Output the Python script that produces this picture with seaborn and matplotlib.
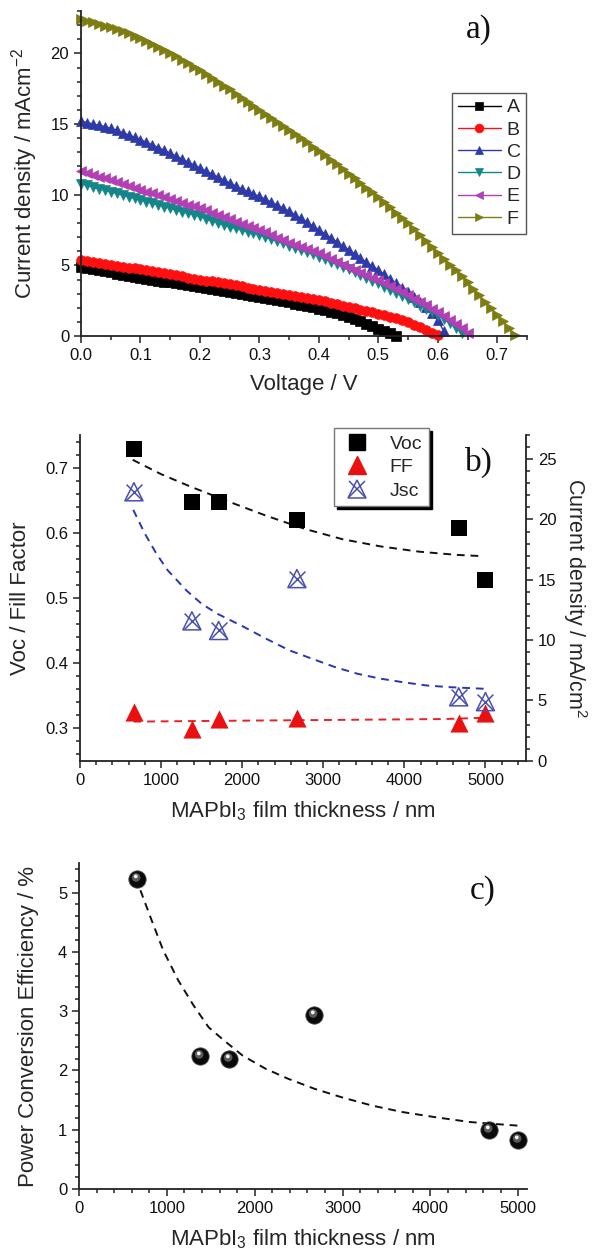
import matplotlib
matplotlib.use('Agg')
import matplotlib.pyplot as plt
import seaborn as sns
from matplotlib.lines import Line2D
from matplotlib.markers import MarkerStyle
from matplotlib.transforms import Affine2D
from matplotlib.ticker import MultipleLocator, FormatStrFormatter

# ---- panel a: J-V curves (0.01 V steps) ----
volt = [0.00, 0.01, 0.02, 0.03, 0.04, 0.05, 0.06, 0.07, 0.08, 0.09,
        0.10, 0.11, 0.12, 0.13, 0.14, 0.15, 0.16, 0.17, 0.18, 0.19,
        0.20, 0.21, 0.22, 0.23, 0.24, 0.25, 0.26, 0.27, 0.28, 0.29,
        0.30, 0.31, 0.32, 0.33, 0.34, 0.35, 0.36, 0.37, 0.38, 0.39,
        0.40, 0.41, 0.42, 0.43, 0.44, 0.45, 0.46, 0.47, 0.48, 0.49,
        0.50, 0.51, 0.52, 0.53, 0.54, 0.55, 0.56, 0.57, 0.58, 0.59,
        0.60, 0.61, 0.62, 0.63, 0.64, 0.65, 0.66, 0.67, 0.68, 0.69,
        0.70, 0.71, 0.72, 0.73]

j_A = [4.90, 4.82, 4.74, 4.66, 4.58, 4.50, 4.42, 4.34, 4.26, 4.18,
       4.10, 4.04, 3.98, 3.91, 3.85, 3.79, 3.73, 3.67, 3.61, 3.54,
       3.48, 3.41, 3.34, 3.27, 3.20, 3.13, 3.06, 2.99, 2.92, 2.85,
       2.77, 2.70, 2.62, 2.54, 2.46, 2.38, 2.30, 2.21, 2.12, 2.03,
       1.94, 1.83, 1.72, 1.60, 1.47, 1.33, 1.18, 1.03, 0.87, 0.70,
       0.52, 0.35, 0.18, 0.02]
j_B = [5.38, 5.31, 5.25, 5.18, 5.12, 5.05, 4.98, 4.92, 4.85, 4.79,
       4.72, 4.65, 4.58, 4.50, 4.43, 4.36, 4.29, 4.22, 4.14, 4.07,
       4.00, 3.93, 3.86, 3.79, 3.72, 3.65, 3.58, 3.51, 3.43, 3.36,
       3.29, 3.22, 3.14, 3.07, 2.99, 2.92, 2.84, 2.77, 2.69, 2.62,
       2.54, 2.45, 2.35, 2.25, 2.14, 2.04, 1.95, 1.86, 1.77, 1.68,
       1.59, 1.48, 1.37, 1.25, 1.13, 0.99, 0.81, 0.62, 0.42, 0.23,
       0.04]
j_C = [15.20, 15.11, 15.01, 14.92, 14.82, 14.70, 14.55, 14.39, 14.23, 14.07,
       13.90, 13.72, 13.53, 13.34, 13.14, 12.94, 12.73, 12.53, 12.32, 12.11,
       11.90, 11.69, 11.47, 11.26, 11.04, 10.83, 10.62, 10.42, 10.23, 10.06,
       9.88, 9.68, 9.48, 9.27, 9.05, 8.83, 8.58, 8.32, 8.06, 7.79,
       7.51, 7.24, 6.96, 6.68, 6.40, 6.11, 5.82, 5.52, 5.22, 4.95,
       4.67, 4.36, 4.05, 3.74, 3.43, 3.10, 2.77, 2.43, 2.09, 1.62,
       1.11, 0.35]
j_D = [10.78, 10.66, 10.55, 10.43, 10.32, 10.21, 10.09, 9.98, 9.86, 9.75,
       9.64, 9.52, 9.40, 9.28, 9.16, 9.04, 8.92, 8.80, 8.69, 8.57,
       8.46, 8.31, 8.16, 8.01, 7.86, 7.73, 7.62, 7.50, 7.39, 7.27,
       7.16, 7.01, 6.85, 6.70, 6.55, 6.39, 6.23, 6.08, 5.93, 5.77,
       5.62, 5.45, 5.27, 5.09, 4.91, 4.73, 4.52, 4.31, 4.11, 3.92,
       3.72, 3.50, 3.29, 3.07, 2.85, 2.63, 2.40, 2.16, 1.93, 1.70,
       1.47, 1.19, 0.90, 0.58, 0.24]
j_E = [11.66, 11.53, 11.41, 11.28, 11.16, 11.03, 10.89, 10.76, 10.63, 10.49,
       10.36, 10.22, 10.09, 9.95, 9.81, 9.68, 9.55, 9.42, 9.30, 9.17,
       9.05, 8.89, 8.73, 8.57, 8.41, 8.25, 8.10, 7.95, 7.80, 7.66,
       7.51, 7.33, 7.15, 6.97, 6.79, 6.61, 6.46, 6.31, 6.16, 6.00,
       5.85, 5.65, 5.45, 5.25, 5.04, 4.84, 4.66, 4.48, 4.31, 4.13,
       3.96, 3.74, 3.53, 3.32, 3.10, 2.87, 2.63, 2.40, 2.17, 1.94,
       1.71, 1.43, 1.14, 0.85, 0.54, 0.22]
j_F = [22.40, 22.30, 22.19, 22.08, 21.97, 21.85, 21.71, 21.56, 21.41, 21.26,
       21.10, 20.90, 20.69, 20.48, 20.27, 20.05, 19.81, 19.56, 19.31, 19.06,
       18.80, 18.53, 18.26, 17.99, 17.72, 17.45, 17.16, 16.87, 16.58, 16.29,
       16.00, 15.72, 15.44, 15.16, 14.88, 14.60, 14.30, 14.00, 13.70, 13.40,
       13.10, 12.78, 12.46, 12.14, 11.82, 11.50, 11.17, 10.84, 10.51, 10.18,
       9.85, 9.48, 9.11, 8.74, 8.37, 8.00, 7.58, 7.16, 6.74, 6.32,
       5.90, 5.48, 5.06, 4.64, 4.22, 3.80, 3.34, 2.88, 2.42, 1.96,
       1.50, 1.03, 0.56, 0.10]

cell_names = ['A', 'B', 'C', 'D', 'E', 'F']
cell_markers = ['s', 'o', '^', 'v', '<', '>']
cell_colors = ['#000000', '#ff1010', '#2d3aa8', '#14868a', '#b23fb6', '#7d7d12']

# ---- panel b / c: device parameters vs film thickness ----
thickness = [665, 1380, 1710, 2675, 4670, 5000]
voc = [0.729, 0.648, 0.648, 0.619, 0.608, 0.528]
ff = [0.325, 0.298, 0.314, 0.315, 0.308, 0.324]
jsc = [22.3, 11.6, 10.8, 15.1, 5.3, 4.9]
pce = [5.23, 2.24, 2.20, 2.94, 1.00, 0.83]

# fit curves
voc_fit_x = [650, 1000, 1360, 1830, 2300, 2770, 3240, 3710, 4180, 4650, 4980]
voc_fit_y = [0.712, 0.690, 0.671, 0.648, 0.626, 0.606, 0.590, 0.579, 0.571, 0.566, 0.564]
ff_fit_x = [660, 1500, 2500, 3500, 4500, 5000]
ff_fit_y = [0.310, 0.311, 0.312, 0.313, 0.314, 0.316]
jsc_fit_x = [657, 798, 939, 1080, 1315, 1502, 1690, 2019, 2300, 2582,
             2864, 3146, 3427, 3709, 3991, 4272, 4554, 5000]
jsc_fit_y = [20.8, 18.85, 17.2, 15.8, 14.1, 13.0, 12.2, 11.1, 10.1, 9.15,
             8.45, 7.76, 7.2, 6.8, 6.5, 6.24, 6.1, 5.96]
pce_fit_x = [699, 828, 958, 1130, 1303, 1475, 1648, 1864, 2123, 2381,
             2683, 2985, 3330, 3676, 4064, 4452, 4711, 4991]
pce_fit_y = [5.04, 4.53, 4.03, 3.52, 3.10, 2.73, 2.51, 2.25, 2.03, 1.86,
             1.69, 1.55, 1.41, 1.30, 1.21, 1.13, 1.10, 1.07]

sns.set_style('ticks')
plt.rcParams['font.family'] = ['Liberation Sans', 'DejaVu Sans']
plt.rcParams['mathtext.fontset'] = 'custom'
plt.rcParams['mathtext.rm'] = 'Liberation Sans'
plt.rcParams['mathtext.it'] = 'Liberation Sans:italic'
plt.rcParams['mathtext.bf'] = 'Liberation Sans:bold'

AX_COL = '#222222'
TICK_FS = 12
LAB_FS = 16
dash = (0, (4, 3))


def style_axis(ax, sides=('left', 'bottom')):
    for s in ['left', 'right', 'top', 'bottom']:
        ax.spines[s].set_visible(s in sides)
        ax.spines[s].set_color(AX_COL)
        ax.spines[s].set_linewidth(1.3)
    ax.tick_params(which='both', direction='out', colors=AX_COL, width=1.1,
                   labelsize=TICK_FS, labelcolor='#111111')
    ax.tick_params(which='major', length=5)
    ax.tick_params(which='minor', length=3)


fig = plt.figure(figsize=(5.93, 12.52), dpi=100)
ax_a = fig.add_axes([0.1366, 0.7316, 0.7521, 0.2596])
ax_b = fig.add_axes([0.1349, 0.3924, 0.7521, 0.2601])
ax_c = fig.add_axes([0.1332, 0.0503, 0.7555, 0.2604])

# a)
for name, j, mk, col in zip(cell_names, [j_A, j_B, j_C, j_D, j_E, j_F], cell_markers, cell_colors):
    sns.lineplot(x=volt[:len(j)], y=j, ax=ax_a, color=col, marker=mk, markersize=7,
                 markeredgecolor=col, markeredgewidth=0.5, linewidth=1.0,
                 label=name, sort=False, clip_on=False)
ax_a.set_xlim(0, 0.75)
ax_a.set_ylim(0, 23)
ax_a.xaxis.set_major_locator(MultipleLocator(0.1))
ax_a.xaxis.set_minor_locator(MultipleLocator(0.05))
ax_a.xaxis.set_major_formatter(FormatStrFormatter('%.1f'))
ax_a.yaxis.set_major_locator(MultipleLocator(5))
ax_a.yaxis.set_minor_locator(MultipleLocator(1))
style_axis(ax_a)
ax_a.set_xlabel('Voltage / V', fontsize=LAB_FS)
ax_a.set_ylabel('Current density / mAcm$^{-2}$', fontsize=LAB_FS)
ax_a.xaxis.set_label_coords(0.5, -0.117)
ax_a.yaxis.set_label_coords(-0.092, 0.5)
leg_a = ax_a.legend(loc='upper left', bbox_to_anchor=(0.832, 0.748), fontsize=14,
                    frameon=True, fancybox=False, framealpha=1, edgecolor='#555555',
                    handlelength=2.2, handletextpad=0.3, labelspacing=0.24,
                    borderpad=0.3, borderaxespad=0, markerscale=0.9)
leg_a.get_frame().set_linewidth(1.0)

# b)
ax_b2 = ax_b.twinx()
sns.lineplot(x=voc_fit_x, y=voc_fit_y, ax=ax_b, color='#111111', linestyle=dash, linewidth=1.4)
sns.lineplot(x=ff_fit_x, y=ff_fit_y, ax=ax_b, color='#e8202a', linestyle=dash, linewidth=1.4)
sns.scatterplot(x=thickness, y=voc, ax=ax_b, marker='s', s=120, color='black', linewidth=0, zorder=3)
sns.scatterplot(x=thickness, y=ff, ax=ax_b, marker='^', s=170, color='#e81010', linewidth=0, zorder=3)
sns.lineplot(x=jsc_fit_x, y=jsc_fit_y, ax=ax_b2, color='#2a36b0', linestyle=dash, linewidth=1.4)
sns.scatterplot(x=thickness, y=jsc, ax=ax_b2, marker='^', s=170, facecolor='none',
                edgecolor='#4a50b0', linewidth=1.1, zorder=3)
sns.scatterplot(x=thickness, y=jsc, ax=ax_b2, marker='x', s=130, color='#4a50b0',
                linewidth=1.1, zorder=3)
ax_b.set_xlim(0, 5500)
ax_b.set_ylim(0.25, 0.75)
ax_b2.set_ylim(0, 27)
ax_b.xaxis.set_major_locator(MultipleLocator(1000))
ax_b.xaxis.set_minor_locator(MultipleLocator(200))
ax_b.yaxis.set_major_locator(MultipleLocator(0.1))
ax_b.yaxis.set_minor_locator(MultipleLocator(0.02))
ax_b.yaxis.set_major_formatter(FormatStrFormatter('%.1f'))
ax_b2.yaxis.set_major_locator(MultipleLocator(5))
ax_b2.yaxis.set_minor_locator(MultipleLocator(1))
style_axis(ax_b)
style_axis(ax_b2, sides=('right',))
ax_b.set_xlabel('MAPbI$_3$ film thickness / nm', fontsize=LAB_FS)
ax_b.set_ylabel('Voc / Fill Factor', fontsize=LAB_FS)
ax_b2.set_ylabel('Current density / mA/cm$^2$', fontsize=15.5, rotation=270, va='bottom')
ax_b.xaxis.set_label_coords(0.5, -0.118)
ax_b.yaxis.set_label_coords(-0.11, 0.5)
ax_b2.yaxis.set_label_coords(1.078, 0.5)

h_voc = Line2D([], [], marker='s', color='black', linestyle='none', markersize=11)
h_ff = Line2D([], [], marker='^', color='#e81010', linestyle='none', markersize=13)
h_j1 = Line2D([], [], marker='^', markerfacecolor='none', markeredgecolor='#4a50b0',
              linestyle='none', markersize=13, markeredgewidth=1.1)
h_j2 = Line2D([], [], marker='x', color='#4a50b0', linestyle='none', markersize=11,
              markeredgewidth=1.1)
leg_b = ax_b2.legend([h_voc, h_ff, (h_j1, h_j2)], ['Voc', 'FF', 'Jsc'],
                     loc='upper left', bbox_to_anchor=(0.570, 1.021), fontsize=14,
                     frameon=True, fancybox=False, framealpha=1, edgecolor='#777777',
                     shadow={'color': 'black', 'alpha': 1}, handlelength=1.6,
                     handletextpad=0.9, labelspacing=0.3, borderpad=0.35,
                     borderaxespad=0)
leg_b.get_frame().set_linewidth(1.0)

# c)
sns.lineplot(x=pce_fit_x, y=pce_fit_y, ax=ax_c, color='#111111', linestyle=dash, linewidth=1.4)
sns.scatterplot(x=thickness, y=pce, ax=ax_c, marker='o', s=155, color='#0a0a0a',
                edgecolor='#444444', linewidth=0.6, zorder=3)
glow1 = MarkerStyle('o', transform=Affine2D().scale(0.5).translate(-0.08, 0.12))
glow2 = MarkerStyle('o', transform=Affine2D().scale(0.22).translate(-0.1, 0.18))
sns.scatterplot(x=thickness, y=pce, ax=ax_c, marker=glow1, s=155, color='#5a5a5a',
                linewidth=0, zorder=4)
sns.scatterplot(x=thickness, y=pce, ax=ax_c, marker=glow2, s=155, color='#f4f4f4',
                linewidth=0, zorder=5)
ax_c.set_xlim(0, 5100)
ax_c.set_ylim(0, 5.5)
ax_c.xaxis.set_major_locator(MultipleLocator(1000))
ax_c.xaxis.set_minor_locator(MultipleLocator(200))
ax_c.yaxis.set_major_locator(MultipleLocator(1))
ax_c.yaxis.set_minor_locator(MultipleLocator(0.2))
style_axis(ax_c)
ax_c.set_xlabel('MAPbI$_3$ film thickness / nm', fontsize=LAB_FS)
ax_c.set_ylabel('Power Conversion Efficiency / %', fontsize=LAB_FS)
ax_c.xaxis.set_label_coords(0.5, -0.117)
ax_c.yaxis.set_label_coords(-0.089, 0.5)

for lab, xy in [('a)', (0.808, 0.976)), ('b)', (0.808, 0.631)), ('c)', (0.8145, 0.289))]:
    fig.text(xy[0], xy[1], lab, fontsize=24, family='Liberation Serif',
             ha='center', va='center', color='#111111')

fig.savefig('out.png', dpi=100)
